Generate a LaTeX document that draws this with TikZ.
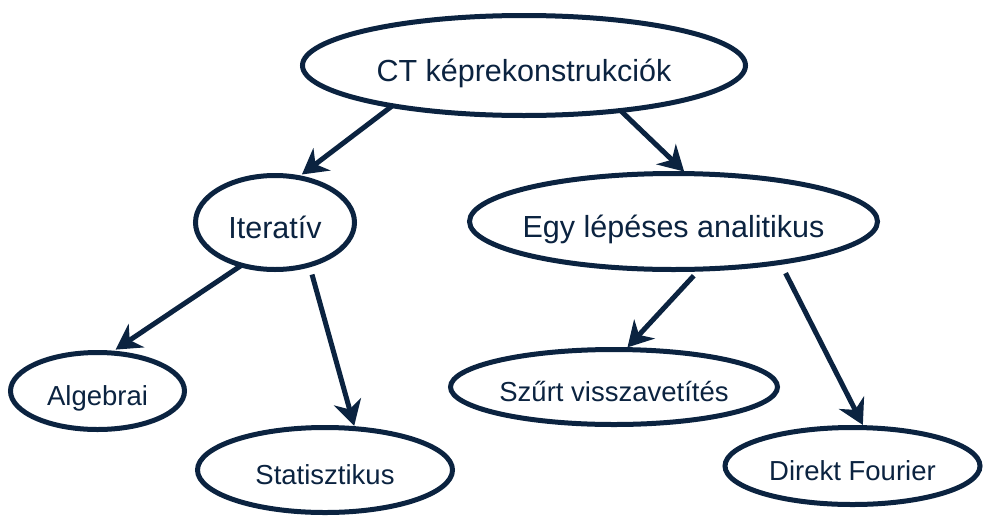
\documentclass[tikz,border=0pt]{standalone}
\usepackage{fontspec}
\setmainfont{Liberation Sans}
\usetikzlibrary{shapes.geometric, arrows.meta}
\definecolor{navy}{RGB}{11,35,64}

\begin{document}
\begin{tikzpicture}[x=1pt, y=-1pt, line width=5pt, draw=navy, text=navy,
    >={Stealth[length=25pt, width=28pt, inset=8pt]},
    topic/.style={ellipse, draw=navy, line width=5pt, inner xsep=-20pt, inner ysep=0pt,
        outer sep=0pt, text height=31pt, text depth=0pt,
        font=\fontsize{30.5}{36}\selectfont},
    subtopic/.style={topic, text height=29pt, font=\fontsize{27.5}{33}\selectfont},
    link/.style={->, draw=navy, line width=5pt}]

    \useasboundingbox (0,0) rectangle (984,517);

    % Define states
    \node[topic, minimum width=443pt, minimum height=100pt] (CT) at (524,65.5) {CT képrekonstrukciók};
    \node[topic, minimum width=159pt, minimum height=94pt] (Iter) at (275,222.5) {Iteratív};
    \node[topic, minimum width=408pt, minimum height=96pt] (Egy) at (673.5,221.5) {Egy lépéses analitikus};
    \node[subtopic, minimum width=174pt, minimum height=77pt] (Alg) at (97.5,391) {Algebrai};
    \node[subtopic, minimum width=255pt, minimum height=85pt] (Stat) at (325,470) {Statisztikus};
    \node[subtopic, minimum width=327pt, minimum height=75pt] (Szurt) at (614,387) {Szűrt visszavetítés};
    \node[subtopic, minimum width=255pt, minimum height=77pt] (Fourier) at (852.5,466) {Direkt Fourier};

    % Transitions
    \draw[link, shorten >=5pt] (CT.197) -- (Iter.63);
    \draw[link, shorten >=3pt] (CT.335) -- (Egy.75);
    \draw[link, shorten >=6pt] (Iter.232) -- (Alg.71);
    \draw[link, shorten <=10pt, shorten >=3pt] (Iter.309) -- (Stat.54);
    \draw[link, shorten <=9pt, shorten >=3pt] (Egy.299) -- (Szurt.73);
    \draw[link, shorten <=12pt, shorten >=3pt] (Egy.339) -- (Fourier.73);

\end{tikzpicture}
\end{document}
